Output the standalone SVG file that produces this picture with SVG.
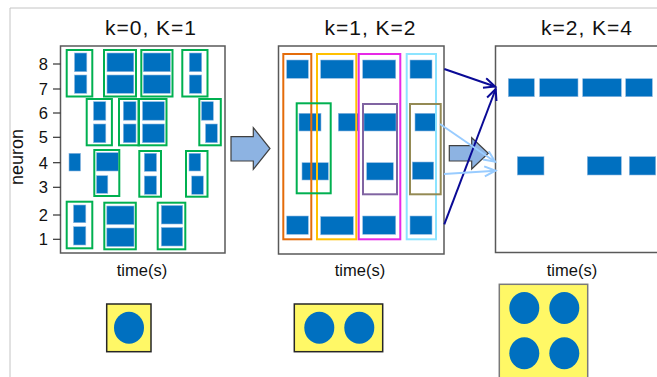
<svg xmlns="http://www.w3.org/2000/svg" width="657" height="377" viewBox="0 0 657 377">
<defs>
<style>
.sp{fill:#0070C0;stroke:#8fb8e0;stroke-width:0.6}
.gb{fill:none;stroke:#00B050;stroke-width:2}
.pn{fill:#fff;stroke:#595959;stroke-width:1.5}
.t{font-family:"Liberation Sans",Arial,sans-serif;fill:#111}
.ttl{font-size:21px;letter-spacing:1px;text-anchor:middle}
.ax{font-size:16.5px;text-anchor:end}
.tm{font-size:16.5px;text-anchor:middle}
.tick{stroke:#333;stroke-width:1.2}
.blk{fill:#8DB3E2;stroke:#404040;stroke-width:1.2;stroke-linejoin:miter}
.yb{fill:#FFF866;stroke-width:1.5}
.dot{fill:#0070C0}
.nv{stroke:#0A0A96;stroke-width:2;fill:none}
.lb{stroke:#99CCFF;stroke-width:2;fill:none}
</style>
<marker id="mNv" markerUnits="userSpaceOnUse" markerWidth="16" markerHeight="14" refX="12" refY="6" orient="auto">
<path d="M1,1 L12,6 L1,11" fill="none" stroke="#0A0A96" stroke-width="2"/>
</marker>
<marker id="mLb" markerUnits="userSpaceOnUse" markerWidth="16" markerHeight="14" refX="12" refY="6" orient="auto">
<path d="M1,1 L12,6 L1,11" fill="none" stroke="#99CCFF" stroke-width="2"/>
</marker>
</defs>
<rect width="657" height="377" fill="#fff"/>
<path d="M10,377 V8 H657" fill="none" stroke="#c4c4c4" stroke-width="1"/>

<g id="panel1">
<rect class="pn" x="60.5" y="46" width="164.5" height="207"/>
<text class="t ttl" x="151" y="35">k=0, K=1</text>
<text class="t tm" x="142" y="276">time(s)</text>
<text class="t" font-size="18" text-anchor="middle" transform="translate(23,157) rotate(-90)">neuron</text>
<g class="ticks">
<line class="tick" x1="53" y1="64" x2="60.5" y2="64"/><text class="t ax" x="48" y="70">8</text>
<line class="tick" x1="53" y1="89" x2="60.5" y2="89"/><text class="t ax" x="48" y="95">7</text>
<line class="tick" x1="53" y1="113" x2="60.5" y2="113"/><text class="t ax" x="48" y="119">6</text>
<line class="tick" x1="53" y1="137.3" x2="60.5" y2="137.3"/><text class="t ax" x="48" y="143.3">5</text>
<line class="tick" x1="53" y1="162.7" x2="60.5" y2="162.7"/><text class="t ax" x="48" y="168.7">4</text>
<line class="tick" x1="53" y1="187.3" x2="60.5" y2="187.3"/><text class="t ax" x="48" y="193.3">3</text>
<line class="tick" x1="53" y1="215" x2="60.5" y2="215"/><text class="t ax" x="48" y="221">2</text>
<line class="tick" x1="53" y1="239.3" x2="60.5" y2="239.3"/><text class="t ax" x="48" y="245.3">1</text>
</g>
<g class="spikes">
<rect class="sp" x="74.5" y="53" width="12.3" height="18.7"/><rect class="sp" x="74.5" y="75" width="12.3" height="18.3"/>
<rect class="sp" x="107" y="53" width="26.8" height="18.7"/><rect class="sp" x="107" y="75" width="26.8" height="18.3"/>
<rect class="sp" x="143.3" y="53" width="27" height="18.7"/><rect class="sp" x="143.3" y="75" width="27" height="18.3"/>
<rect class="sp" x="189.3" y="53" width="12.4" height="18.7"/><rect class="sp" x="189.3" y="75" width="12.4" height="18.3"/>

<rect class="sp" x="93.5" y="101.7" width="12.3" height="18.5"/><rect class="sp" x="93.5" y="124" width="12.3" height="18.7"/>
<rect class="sp" x="123.3" y="101.7" width="12.7" height="18.5"/><rect class="sp" x="123.3" y="124" width="12.7" height="18.7"/>
<rect class="sp" x="142.5" y="101.7" width="21.8" height="18.5"/><rect class="sp" x="142.5" y="124" width="21.8" height="18.7"/>
<rect class="sp" x="201.5" y="101.7" width="11.8" height="18.5"/><rect class="sp" x="205.5" y="124" width="11.8" height="18.7"/>

<rect class="sp" x="69" y="153.3" width="11.5" height="17.7"/>
<rect class="sp" x="96.5" y="152.7" width="21.8" height="18.3"/><rect class="sp" x="96.5" y="175.7" width="11.3" height="17.6"/>
<rect class="sp" x="144.3" y="153.3" width="12.2" height="18"/><rect class="sp" x="144.3" y="176" width="12.2" height="18.3"/>
<rect class="sp" x="189" y="153.3" width="11.7" height="17.7"/><rect class="sp" x="191.7" y="176" width="11.6" height="18.3"/>

<rect class="sp" x="73.5" y="205" width="12.3" height="17.7"/><rect class="sp" x="73.5" y="226.7" width="12.3" height="18.3"/>
<rect class="sp" x="106.8" y="206" width="27.2" height="18.5"/><rect class="sp" x="106.8" y="228" width="27.2" height="18.5"/>
<rect class="sp" x="161.3" y="205.5" width="21.4" height="18.5"/><rect class="sp" x="161.3" y="227.5" width="21.4" height="18.5"/>
</g>
<g class="groups">
<rect class="gb" x="66.7" y="50" width="25.6" height="46.5"/>
<rect class="gb" x="104" y="50" width="32" height="46.5"/>
<rect class="gb" x="141.3" y="50" width="31.2" height="46.5"/>
<rect class="gb" x="182.3" y="50" width="25.2" height="46.5"/>
<rect class="gb" x="86.7" y="99" width="25.2" height="46.3"/>
<rect class="gb" x="119" y="99" width="20" height="46.3"/>
<rect class="gb" x="138.5" y="99" width="28" height="46.3"/>
<rect class="gb" x="199.3" y="99" width="21.5" height="46.3"/>
<rect class="gb" x="94.3" y="150" width="25" height="46"/>
<rect class="gb" x="139.3" y="151" width="21.7" height="45.7"/>
<rect class="gb" x="186" y="151" width="21.5" height="45.7"/>
<rect class="gb" x="66.7" y="201.7" width="25.6" height="46.6"/>
<rect class="gb" x="104.3" y="202.7" width="31.5" height="46.6"/>
<rect class="gb" x="157.7" y="202.7" width="27.6" height="46.6"/>
</g>
</g>

<g id="panel2">
<rect class="pn" x="278.5" y="46" width="165.5" height="208"/>
<text class="t ttl" x="370.5" y="35">k=1, K=2</text>
<text class="t tm" x="360" y="276">time(s)</text>
<g class="spikes">
<rect class="sp" x="286.7" y="60" width="21.6" height="18.3"/>
<rect class="sp" x="320.7" y="60" width="32.6" height="18.3"/>
<rect class="sp" x="362.7" y="60" width="33" height="18.3"/>
<rect class="sp" x="410" y="60" width="22" height="18.3"/>
<rect class="sp" x="299" y="113.3" width="22" height="17.7"/>
<rect class="sp" x="338.3" y="113.3" width="20" height="17.7"/>
<rect class="sp" x="364" y="113.3" width="32" height="17.7"/>
<rect class="sp" x="415" y="113.3" width="21.7" height="17.7"/>
<rect class="sp" x="302" y="162.7" width="26.3" height="17.3"/>
<rect class="sp" x="366.7" y="162.7" width="26.6" height="17.3"/>
<rect class="sp" x="412.3" y="162" width="21.4" height="17.3"/>
<rect class="sp" x="286.7" y="216" width="21.6" height="18.3"/>
<rect class="sp" x="320.7" y="216.5" width="32.6" height="18.3"/>
<rect class="sp" x="362.7" y="216" width="33" height="18.3"/>
<rect class="sp" x="410" y="216" width="22" height="18.3"/>
</g>
<g class="groups" fill="none" stroke-width="2">
<rect x="283.3" y="54" width="28" height="185.3" stroke="#E46C0A"/>
<rect x="317" y="54" width="39.3" height="185.3" stroke="#FFC000"/>
<rect x="358.7" y="54" width="41.6" height="185.3" stroke="#E629E6"/>
<rect x="406.7" y="54" width="29.3" height="185.3" stroke="#8CE4FF"/>
<rect x="296.7" y="103.3" width="34" height="90" stroke="#00B050"/>
<rect x="363" y="104" width="34" height="90.3" stroke="#8064A2"/>
<rect x="410" y="104" width="30.7" height="90.3" stroke="#948A54"/>
</g>
</g>

<g id="panel3">
<rect class="pn" x="495.5" y="46" width="170" height="206.5"/>
<text class="t ttl" x="587" y="35">k=2, K=4</text>
<text class="t tm" x="572" y="276">time(s)</text>
<g class="spikes">
<rect class="sp" x="508.3" y="78.7" width="26" height="18"/>
<rect class="sp" x="539.7" y="78.7" width="38.3" height="18"/>
<rect class="sp" x="582.7" y="78.7" width="38.6" height="18"/>
<rect class="sp" x="625.7" y="78.7" width="26.6" height="18"/>
<rect class="sp" x="517.3" y="156.7" width="26.7" height="18.3"/>
<rect class="sp" x="587.3" y="156.7" width="34" height="18.3"/>
<rect class="sp" x="629.3" y="156.7" width="26.4" height="18.3"/>
</g>
</g>

<g id="step1">
<polygon class="blk" points="231,136.7 253.3,136.7 253.3,127.7 270,148.5 253.3,169.3 253.3,161 231,161"/>
</g>
<g id="step2">
<polygon class="blk" points="449.3,145.7 471.7,145.7 471.7,137.7 488.3,153.3 471.7,169 471.7,161 449.3,161"/>
</g>

<g id="connectors">
<line class="nv" x1="444.3" y1="69" x2="495" y2="86.5" marker-end="url(#mNv)"/>
<line class="nv" x1="444.3" y1="224.3" x2="495.7" y2="89" marker-end="url(#mNv)"/>
<line class="lb" x1="440" y1="124" x2="495" y2="161.7" marker-end="url(#mLb)"/>
<line class="lb" x1="444" y1="174" x2="495.5" y2="170.7" marker-end="url(#mLb)"/>
</g>

<g id="legend1">
<rect class="yb" x="106.7" y="304" width="44.3" height="47.7" stroke="#262626"/>
<ellipse class="dot" cx="129" cy="327.7" rx="15" ry="16"/>
</g>
<g id="legend2">
<rect class="yb" x="294.3" y="304" width="88.4" height="47.7" stroke="#262626"/>
<ellipse class="dot" cx="319.3" cy="327.7" rx="15" ry="16"/>
<ellipse class="dot" cx="359.3" cy="327.7" rx="15" ry="16"/>
</g>
<g id="legend3">
<rect class="yb" x="499.3" y="284.3" width="88.4" height="100" stroke="#7a7a7a"/>
<ellipse class="dot" cx="524.3" cy="308" rx="15" ry="16"/>
<ellipse class="dot" cx="564.3" cy="308" rx="15" ry="16"/>
<ellipse class="dot" cx="524.3" cy="353.3" rx="15" ry="16"/>
<ellipse class="dot" cx="564.3" cy="353.3" rx="15" ry="16"/>
</g>
</svg>
